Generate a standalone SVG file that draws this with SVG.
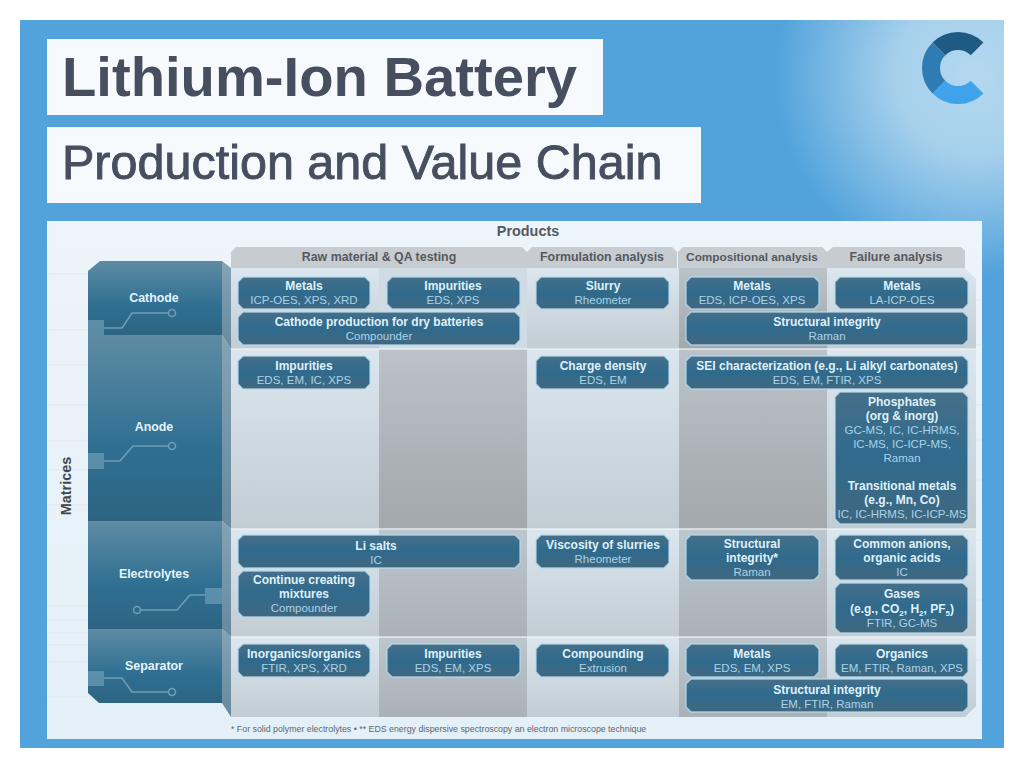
<svg xmlns="http://www.w3.org/2000/svg" width="1024" height="768" viewBox="0 0 1024 768">
<style>
text{font-family:"Liberation Sans",Arial,sans-serif}
.b{font-weight:700;font-size:12px;fill:#dff1f9;text-anchor:middle}
.r{font-size:11.5px;fill:#a9d3e8;text-anchor:middle}
.h{font-weight:700;font-size:12.4px;fill:#55595e;text-anchor:middle}
.card{fill:url(#cg);stroke:#b4dcf0;stroke-width:1.4;stroke-opacity:.8}
.tab{fill:#c6ccd0}
.lt{fill:url(#lc)}
.dk{fill:url(#dc)}
.dk2{fill:url(#dc2)}
.side{fill:url(#sg)}
.trace{fill:none;stroke:#6f9db5;stroke-width:1.6}
.sq{fill:#6f9db5;fill-opacity:.7}
.fl{stroke:#dfe7ee;stroke-width:1}
.ln{stroke:#eef4f8;stroke-width:1.5;stroke-opacity:.8}
.ns{fill:url(#ng)}
.lbl{font-weight:700;font-size:12.4px;fill:#e4f4fb;text-anchor:middle}
</style>
<defs>
<radialGradient id="glow" gradientUnits="userSpaceOnUse" cx="975" cy="75" r="200">
<stop offset="0" stop-color="#b4d8ef"/><stop offset=".4" stop-color="#a6d0ec"/><stop offset="1" stop-color="#52a3dc"/>
</radialGradient>
<linearGradient id="pg" x1="0" y1="0" x2="0" y2="1"><stop offset="0" stop-color="#edf4fa"/><stop offset="1" stop-color="#e4f0f8"/></linearGradient>
<linearGradient id="cg" x1="0" y1="0" x2="0" y2="1"><stop offset="0" stop-color="#456f89"/><stop offset=".5" stop-color="#2f6a8d"/><stop offset="1" stop-color="#41687f"/></linearGradient>
<linearGradient id="lc" x1="0" y1="0" x2="0" y2="1"><stop offset="0" stop-color="#dbe6ee"/><stop offset="1" stop-color="#c3ccd3"/></linearGradient>
<linearGradient id="dc" x1="0" y1="0" x2="0" y2="1"><stop offset="0" stop-color="#bac3c9"/><stop offset="1" stop-color="#a2a8ac"/></linearGradient>
<linearGradient id="dc2" x1="0" y1="0" x2="0" y2="1"><stop offset="0" stop-color="#bcc6cd"/><stop offset="1" stop-color="#aab2b7"/></linearGradient>
<linearGradient id="sg" x1="0" y1="0" x2="0" y2="1"><stop offset="0" stop-color="#84a3b5"/><stop offset="1" stop-color="#68899c"/></linearGradient>
<linearGradient id="ng" x1="0" y1="0" x2="0" y2="1"><stop offset="0" stop-color="#5e8ba3"/><stop offset=".6" stop-color="#2f6f92"/><stop offset="1" stop-color="#2d6482"/></linearGradient>
</defs>

<rect x="20" y="20" width="984" height="728" fill="#52a3dc"/>
<rect x="775" y="20" width="229" height="255" fill="url(#glow)"/>

<g id="title-1"><rect x="47" y="39" width="556" height="76" fill="#f7fafd"/>
<text x="62" y="96" style="font-weight:700;font-size:56.2px;fill:#464e60">Lithium-Ion Battery</text></g>
<g id="title-2"><rect x="47" y="127" width="654" height="76" fill="#f7fafd"/>
<text x="62" y="178.5" style="font-size:48.5px;font-weight:400;fill:#464e60;stroke:#464e60;stroke-width:.9">Production and Value Chain</text></g>

<g id="logo" fill="none" stroke-width="18">
<path d="M938.9 48.9A27 27 0 0 1 977.1 48.9" stroke="#1f5a85"/>
<path d="M938.9 48.9A27 27 0 0 0 938.9 87.1" stroke="#2f7cb5"/>
<path d="M938.9 87.1A27 27 0 0 0 977.1 87.1" stroke="#3ea3ea"/>
</g>

<g id="panel"><rect x="47" y="221" width="935" height="518" fill="url(#pg)"/>
<path class="fl" d="M47 274H88M47 330H88M47 365H88M47 405H88M47 441H88M47 470H88M47 505H88M47 606H88M47 620H88M47 633H88M47 645H88M47 662H88M47 697H88M976 300H982M976 345H982M976 405H982M976 440H982M976 480H982M976 540H982M976 600H982M976 660H982"/></g>

<g id="grid">
<path class="lt" d="M231 268H965L976 279V349H231Z"/>
<rect class="lt" x="231" y="349" width="745" height="180"/>
<rect class="lt" x="231" y="529" width="745" height="108"/>
<path class="lt" d="M231 637H976V706L965 717H231Z"/>
<rect x="379" y="268" width="148" height="81" fill="#d0dbe3"/>
<rect class="dk" x="679" y="268" width="148" height="81"/>
<rect class="dk" x="379" y="349" width="148" height="180"/>
<rect class="dk" x="679" y="349" width="148" height="180"/>
<rect class="dk2" x="379" y="529" width="148" height="108"/>
<rect class="dk2" x="679" y="529" width="148" height="108"/>
<rect class="dk2" x="379" y="637" width="148" height="80"/>
<rect class="dk2" x="679" y="637" width="148" height="80"/>
<path class="ln" d="M231 349H976M231 529H976M231 637H976"/>
</g>

<g id="headers">
<text class="h" x="528" y="235.5" style="font-size:14.4px">Products</text>
<path class="tab" d="M231 252L236 247H522L527 252V268H231Z"/>
<path class="tab" d="M527 252L532 247H672L677 252V268H527Z"/>
<path class="tab" d="M678 252L683 247H822L827 252V268H678Z"/>
<path class="tab" d="M827 252L833 247H961L965 251V268H827Z"/>
<text class="h" x="379" y="261">Raw material &amp; QA testing</text>
<text class="h" x="602" y="261">Formulation analysis</text>
<text class="h" x="752" y="261" style="font-size:11.8px">Compositional analysis</text>
<text class="h" x="896" y="261">Failure analysis</text>
<text class="h" x="0" y="0" transform="translate(70.5 486) rotate(-90)" style="font-size:14.4px;fill:#43474c">Matrices</text>
</g>

<g id="matrix-cathode">
<path class="side" d="M222 261L231 268V349L222 335Z"/>
<path class="ns" d="M88 271L100 261H222V335H88Z"/>
<path class="trace" d="M104 328H122L132 313H168"/><circle class="trace" cx="172" cy="313" r="3.5"/><rect class="sq" x="88" y="320" width="16" height="15"/>
<text class="lbl" x="154" y="302">Cathode</text></g>
<g id="matrix-anode">
<path class="side" d="M222 335L231 349V529L222 521Z"/>
<rect class="ns" x="88" y="335" width="134" height="186"/>
<path class="trace" d="M104 461H120L133 446H168"/><circle class="trace" cx="172" cy="446" r="3.5"/><rect class="sq" x="88" y="453" width="16" height="16"/>
<text class="lbl" x="154" y="431">Anode</text></g>
<g id="matrix-electrolytes">
<path class="side" d="M222 521L231 529V637L222 629Z"/>
<rect class="ns" x="88" y="521" width="134" height="108"/>
<path class="trace" d="M205 595H190L177 610H141"/><circle class="trace" cx="137" cy="610" r="3.5"/><rect class="sq" x="205" y="588" width="17" height="16"/>
<text class="lbl" x="154" y="578">Electrolytes</text></g>
<g id="matrix-separator">
<path class="side" d="M222 629L231 637V717L222 703Z"/>
<path class="ns" d="M88 629H222V703H99L88 693Z"/>
<path class="trace" d="M104 678H122L132 692H168"/><circle class="trace" cx="172" cy="692" r="3.5"/><rect class="sq" x="88" y="671" width="16" height="15"/>
<text class="lbl" x="154" y="670">Separator</text></g>

<g id="c-metals"><path class="card" d="M243 277H365L370 282V304L365 309H243L238 304V282Z"/><text class="b" x="304" y="290">Metals</text><text class="r" x="304" y="304">ICP-OES, XPS, XRD</text></g>
<g id="c-impurities"><path class="card" d="M392 277H515L520 282V304L515 309H392L387 304V282Z"/><text class="b" x="453" y="290">Impurities</text><text class="r" x="453" y="304">EDS, XPS</text></g>
<g id="c-slurry"><path class="card" d="M541 277H664L669 282V304L664 309H541L536 304V282Z"/><text class="b" x="603" y="290">Slurry</text><text class="r" x="603" y="304">Rheometer</text></g>
<g id="c-metals-2"><path class="card" d="M691 277H814L819 282V304L814 309H691L686 304V282Z"/><text class="b" x="752" y="290">Metals</text><text class="r" x="752" y="304">EDS, ICP-OES, XPS</text></g>
<g id="c-metals-3"><path class="card" d="M840 277H963L968 282V304L963 309H840L835 304V282Z"/><text class="b" x="902" y="290">Metals</text><text class="r" x="902" y="304">LA-ICP-OES</text></g>
<g id="c-production"><path class="card" d="M243 312H515L520 317V340L515 345H243L238 340V317Z"/><text class="b" x="379" y="326">Cathode production for dry batteries</text><text class="r" x="379" y="340">Compounder</text></g>
<g id="c-structural"><path class="card" d="M691 312H963L968 317V340L963 345H691L686 340V317Z"/><text class="b" x="827" y="326">Structural integrity</text><text class="r" x="827" y="340">Raman</text></g>

<g id="a-impurities"><path class="card" d="M243 356H365L370 361V384L365 389H243L238 384V361Z"/><text class="b" x="304" y="370">Impurities</text><text class="r" x="304" y="384">EDS, EM, IC, XPS</text></g>
<g id="a-charge"><path class="card" d="M541 356H664L669 361V384L664 389H541L536 384V361Z"/><text class="b" x="603" y="370">Charge density</text><text class="r" x="603" y="384">EDS, EM</text></g>
<g id="a-sei"><path class="card" d="M691 356H963L968 361V384L963 389H691L686 384V361Z"/><text class="b" x="827" y="370">SEI characterization (e.g., Li alkyl carbonates)</text><text class="r" x="827" y="384">EDS, EM, FTIR, XPS</text></g>
<g id="a-phosphates"><path class="card" d="M840 392H963L968 397V519L963 524H840L835 519V397Z"/>
<text class="b" x="902" y="406">Phosphates</text><text class="b" x="902" y="420">(org &amp; inorg)</text>
<text class="r" x="902" y="434">GC-MS, IC, IC-HRMS,</text><text class="r" x="902" y="448">IC-MS, IC-ICP-MS,</text><text class="r" x="902" y="462">Raman</text>
<text class="b" x="902" y="490">Transitional metals</text><text class="b" x="902" y="504">(e.g., Mn, Co)</text><text class="r" x="902" y="518">IC, IC-HRMS, IC-ICP-MS</text></g>

<g id="e-li"><path class="card" d="M243 535H515L520 540V563L515 568H243L238 563V540Z"/><text class="b" x="376" y="550">Li salts</text><text class="r" x="376" y="564">IC</text></g>
<g id="e-continue"><path class="card" d="M243 571H365L370 576V612L365 617H243L238 612V576Z"/><text class="b" x="304" y="584">Continue creating</text><text class="b" x="304" y="598">mixtures</text><text class="r" x="304" y="612">Compounder</text></g>
<g id="e-viscosity"><path class="card" d="M541 535H664L669 540V563L664 568H541L536 563V540Z"/><text class="b" x="603" y="549">Viscosity of slurries</text><text class="r" x="603" y="563">Rheometer</text></g>
<g id="e-structural"><path class="card" d="M691 535H814L819 540V575L814 580H691L686 575V540Z"/><text class="b" x="752" y="548">Structural</text><text class="b" x="752" y="562">integrity*</text><text class="r" x="752" y="576">Raman</text></g>
<g id="e-anions"><path class="card" d="M840 535H963L968 540V575L963 580H840L835 575V540Z"/><text class="b" x="902" y="548">Common anions,</text><text class="b" x="902" y="562">organic acids</text><text class="r" x="902" y="576">IC</text></g>
<g id="e-gases"><path class="card" d="M840 583H963L968 588V628L963 633H840L835 628V588Z"/><text class="b" x="902" y="598">Gases</text><text class="b" x="902" y="613">(e.g., CO<tspan dy="3" font-size="8">2</tspan><tspan dy="-3">, H</tspan><tspan dy="3" font-size="8">2</tspan><tspan dy="-3">, PF</tspan><tspan dy="3" font-size="8">5</tspan><tspan dy="-3">)</tspan></text><text class="r" x="902" y="627">FTIR, GC-MS</text></g>

<g id="s-inorganics"><path class="card" d="M243 644H365L370 649V672L365 677H243L238 672V649Z"/><text class="b" x="304" y="658">Inorganics/organics</text><text class="r" x="304" y="672">FTIR, XPS, XRD</text></g>
<g id="s-impurities"><path class="card" d="M392 644H515L520 649V672L515 677H392L387 672V649Z"/><text class="b" x="453" y="658">Impurities</text><text class="r" x="453" y="672">EDS, EM, XPS</text></g>
<g id="s-compounding"><path class="card" d="M541 644H664L669 649V672L664 677H541L536 672V649Z"/><text class="b" x="603" y="658">Compounding</text><text class="r" x="603" y="672">Extrusion</text></g>
<g id="s-metals"><path class="card" d="M691 644H814L819 649V672L814 677H691L686 672V649Z"/><text class="b" x="752" y="658">Metals</text><text class="r" x="752" y="672">EDS, EM, XPS</text></g>
<g id="s-organics"><path class="card" d="M840 644H963L968 649V672L963 677H840L835 672V649Z"/><text class="b" x="902" y="658">Organics</text><text class="r" x="902" y="672">EM, FTIR, Raman, XPS</text></g>
<g id="s-structural"><path class="card" d="M691 679H963L968 684V707L963 712H691L686 707V684Z"/><text class="b" x="827" y="694">Structural integrity</text><text class="r" x="827" y="708">EM, FTIR, Raman</text></g>

<text id="footnote" x="231" y="732" style="font-size:8.8px;fill:#5d6570">* For solid polymer electrolytes • ** EDS energy dispersive spectroscopy an electron microscope technique</text>
</svg>
